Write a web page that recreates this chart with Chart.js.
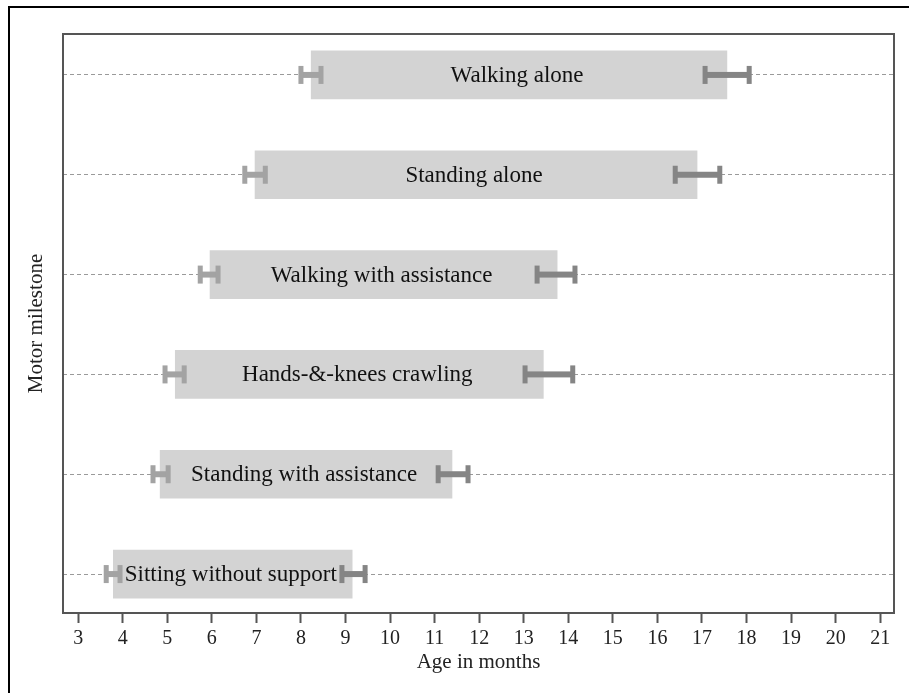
<!DOCTYPE html>
<html>
<head>
<meta charset="utf-8">
<script src="https://cdn.jsdelivr.net/npm/chart.js@4"></script>
<style>
html,body{margin:0;padding:0;background:#fff;}
#wrap{position:relative;width:909px;height:693px;}
#frame{position:absolute;left:8px;top:6px;width:960px;height:760px;border-left:2px solid #000;border-top:2px solid #000;}
canvas{position:absolute;left:0;top:0;}
</style>
</head>
<body>
<div id="wrap"><div id="frame"></div><canvas id="c" width="909" height="693"></canvas></div>
<script>
// Milestones, bottom (index 0) to top
const milestones = ["Sitting without support","Standing with assistance","Hands-&-knees crawling","Walking with assistance","Standing alone","Walking alone"];
const windowStart = [3.79, 4.84, 5.18, 5.96, 6.97, 8.23];
const windowEnd   = [9.15, 11.39, 13.44, 13.75, 16.89, 17.56];
const startLow  = [3.63, 4.68, 4.95, 5.74, 6.74, 8.00];
const startHigh = [3.94, 5.02, 5.38, 6.14, 7.20, 8.45];
const endLow    = [8.92, 11.08, 13.03, 13.30, 16.40, 17.07];
const endHigh   = [9.44, 11.75, 14.10, 14.15, 17.40, 18.06];
const xTicks = [3,4,5,6,7,8,9,10,11,12,13,14,15,16,17,18,19,20,21];

const SERIF = '"Liberation Serif","Times New Roman",serif';

const framePlugin = {
  id: 'frame',
  afterDraw(chart){
    const {ctx, chartArea:a} = chart;
    ctx.save();
    ctx.strokeStyle = '#555';
    ctx.lineWidth = 2;
    ctx.strokeRect(a.left, a.top, a.right - a.left, a.bottom - a.top);
    ctx.restore();
  }
};

const errPlugin = {
  id: 'errbars',
  afterDatasetsDraw(chart){
    const {ctx, scales:{x, y}} = chart;
    const draw = (lo, hi, yi, color) => {
      const x0 = x.getPixelForValue(lo), x1 = x.getPixelForValue(hi), yp = y.getPixelForValue(yi);
      ctx.fillStyle = color;
      ctx.fillRect(x0, yp - 3, x1 - x0, 6);
      ctx.fillRect(x0 - 2.5, yp - 9, 5, 18);
      ctx.fillRect(x1 - 2.5, yp - 9, 5, 18);
    };
    ctx.save();
    milestones.forEach((m, i) => {
      draw(startLow[i], startHigh[i], i, '#a3a3a3');
      draw(endLow[i], endHigh[i], i, '#858585');
    });
    ctx.restore();
  },
  afterDraw(chart){
    const {ctx, scales:{x, y}} = chart;
    ctx.save();
    ctx.fillStyle = '#111';
    ctx.font = '23px ' + SERIF;
    ctx.textAlign = 'center';
    ctx.textBaseline = 'middle';
    milestones.forEach((m, i) => {
      const cx = (x.getPixelForValue(windowStart[i]) + x.getPixelForValue(windowEnd[i])) / 2;
      ctx.fillText(m, cx - 2, y.getPixelForValue(i) + 1);
    });
    ctx.restore();
  }
};

new Chart(document.getElementById('c'), {
  type: 'bar',
  data: {
    datasets: [{
      data: milestones.map((m, i) => ({x: [windowStart[i], windowEnd[i]], y: i})),
      backgroundColor: '#d3d3d3',
      borderWidth: 0,
      barThickness: 48
    }]
  },
  options: {
    indexAxis: 'y',
    responsive: false,
    animation: false,
    layout: {padding: {left: 0, top: 34, right: 15, bottom: 0}},
    plugins: {legend: {display: false}, tooltip: {enabled: false}},
    scales: {
      x: {
        type: 'linear',
        position: 'bottom',
        min: 2.66, max: 21.31,
        offset: false,
        afterBuildTicks: s => { s.ticks = xTicks.map(v => ({value: v})); },
        afterFit: s => { s.height = 80; },
        grid: {offset: false, drawOnChartArea: false, drawTicks: true, tickLength: 10, tickColor: '#555', tickWidth: 2},
        border: {display: true, color: '#555', width: 2},
        ticks: {color: '#222', font: {family: SERIF, size: 20}, padding: 4, maxRotation: 0, autoSkip: false},
        title: {display: true, text: 'Age in months', color: '#222', font: {family: SERIF, size: 21}, padding: {top: 0, bottom: 18}}
      },
      y: {
        type: 'linear',
        position: 'left',
        min: -0.39, max: 5.41,
        offset: false,
        afterBuildTicks: s => { s.ticks = milestones.map((m, i) => ({value: i})); },
        afterFit: s => { s.width = 63; },
        grid: {offset: false, drawTicks: false, color: '#9a9a9a', lineWidth: 1},
        border: {display: false, dash: [4, 3]},
        ticks: {display: false},
        title: {display: true, text: 'Motor milestone', color: '#222', font: {family: SERIF, size: 21}, padding: {top: 24, bottom: 0}}
      }
    }
  },
  plugins: [framePlugin, errPlugin]
});
</script>
</body>
</html>
